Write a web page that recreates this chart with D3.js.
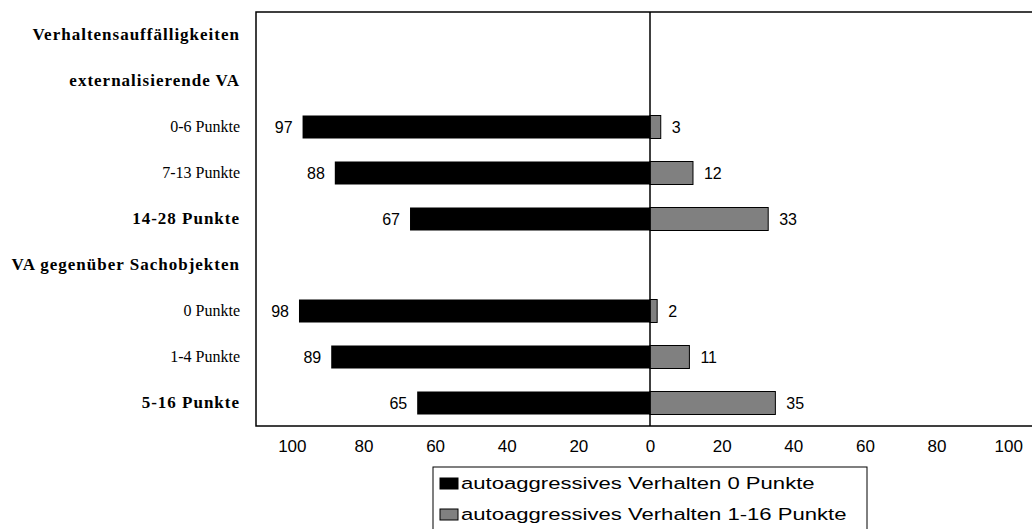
<!DOCTYPE html>
<html><head><meta charset="utf-8">
<script src="https://cdn.jsdelivr.net/npm/d3@7"></script>
<style>body{margin:0;background:#fff}svg{display:block}</style>
</head><body>
<svg id="c" width="1032" height="529"></svg>
<script>
const categories = ["Verhaltensauffälligkeiten","externalisierende VA","0-6 Punkte","7-13 Punkte","14-28 Punkte","VA gegenüber Sachobjekten","0 Punkte","1-4 Punkte","5-16 Punkte"];
const boldCats = [true,true,false,false,true,true,false,false,true];
const series0 = [null,null,97,88,67,null,98,89,65]; // autoaggressives Verhalten 0 Punkte
const series1 = [null,null,3,12,33,null,2,11,35];   // autoaggressives Verhalten 1-16 Punkte
const tickValues = [-100,-80,-60,-40,-20,0,20,40,60,80,100];
const legendLabels = ["autoaggressives Verhalten 0 Punkte","autoaggressives Verhalten 1-16 Punkte"];

const svg = d3.select("#c");
const L=256, R=1044, T=12, B=426;
const x = d3.scaleLinear().domain([-110,110]).range([L,R]);
const y = d3.scaleBand().domain(categories).range([T,B]).paddingInner(0.5).paddingOuter(0.25);

svg.append("rect").attr("x",L).attr("y",T).attr("width",R-L).attr("height",B-T)
  .attr("fill","none").attr("stroke","#000").attr("stroke-width",1.5);

const bw = 23;
const yc = c => y(c)+y.bandwidth()/2;
const sans = "Liberation Sans, Arial";

categories.forEach((c,i)=>{
  if(series0[i]!=null){
    svg.append("rect").attr("x",x(-series0[i])).attr("y",yc(c)-bw/2)
      .attr("width",x(0)-x(-series0[i])).attr("height",bw).attr("fill","#000");
    svg.append("text").attr("x",x(-series0[i])-10).attr("y",yc(c)).attr("dy","0.35em")
      .attr("text-anchor","end").attr("font-family",sans).attr("font-size",16)
      .text(series0[i]);
  }
  if(series1[i]!=null){
    svg.append("rect").attr("x",x(0)).attr("y",yc(c)-bw/2)
      .attr("width",x(series1[i])-x(0)).attr("height",bw).attr("fill","#808080")
      .attr("stroke","#000").attr("stroke-width",1);
    svg.append("text").attr("x",x(series1[i])+11).attr("y",yc(c)).attr("dy","0.35em")
      .attr("text-anchor","start").attr("font-family",sans).attr("font-size",16)
      .text(series1[i]);
  }
});

svg.append("line").attr("x1",x(0)).attr("x2",x(0)).attr("y1",T).attr("y2",B)
  .attr("stroke","#000").attr("stroke-width",1.5);

const ay = svg.append("g").attr("transform",`translate(${L-16},0)`)
  .call(d3.axisLeft(y).tickSize(0).tickPadding(0));
ay.select(".domain").remove();
ay.selectAll("text").attr("font-family","Liberation Serif, Times New Roman")
  .attr("fill","#000")
  .attr("font-size",(d,i)=>boldCats[i]?17:16)
  .attr("letter-spacing",(d,i)=>boldCats[i]?1:0)
  .attr("font-weight",(d,i)=>boldCats[i]?"bold":"normal");

const ax = svg.append("g").attr("transform",`translate(0,${B})`)
  .call(d3.axisBottom(x).tickValues(tickValues).tickSize(0).tickPadding(14).tickFormat(d=>Math.abs(d)));
ax.select(".domain").remove();
ax.selectAll("text").attr("font-family",sans).attr("font-size",17).attr("fill","#000");

const lg = svg.append("g");
lg.append("rect").attr("x",433).attr("y",467).attr("width",434).attr("height",70)
  .attr("fill","#fff").attr("stroke","#000").attr("stroke-width",1);
const lfill = ["#000","#808080"];
legendLabels.forEach((t,i)=>{
  const yy = 483.5 + i*31;
  lg.append("rect").attr("x",440).attr("y",yy-5.5).attr("width",18).attr("height",11)
    .attr("fill",lfill[i]).attr("stroke","#000").attr("stroke-width",1);
  lg.append("text").attr("transform",`translate(461,${yy}) scale(1.3,1)`).attr("dy","0.35em")
    .attr("font-family",sans).attr("font-size",17).text(t);
});
</script>
</body></html>
